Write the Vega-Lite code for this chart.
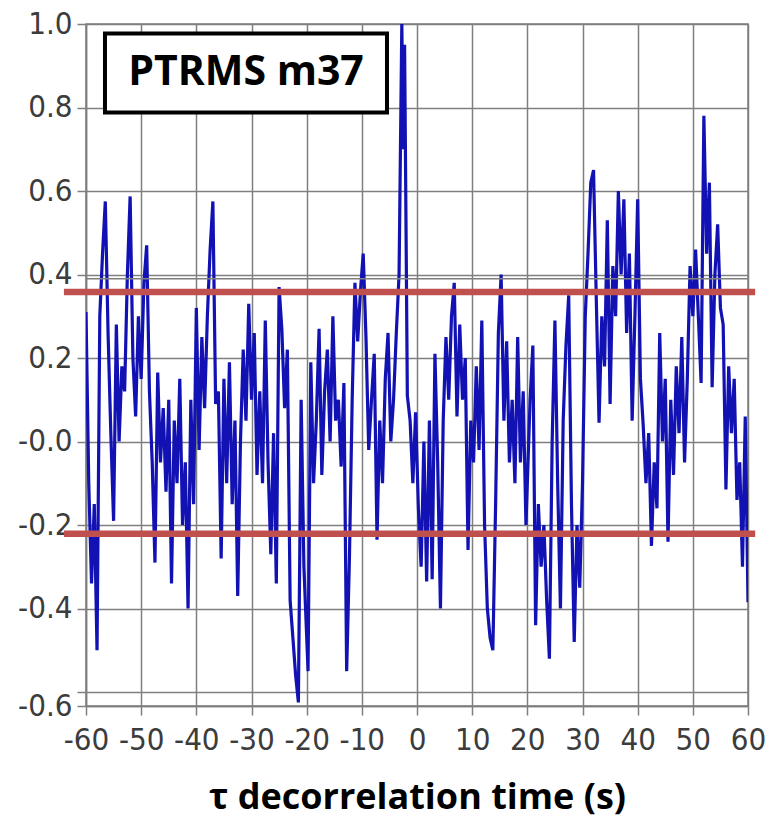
{
  "$schema": "https://vega.github.io/schema/vega-lite/v6.json",
  "width": 662,
  "height": 682,
  "autosize": {"type": "none"},
  "padding": {"left": 86, "top": 24, "right": 25, "bottom": 118},
  "background": "white",
  "config": {
    "view": {"stroke": "#7f7f7f", "strokeWidth": 1.5},
    "axis": {
      "gridColor": "#7f7f7f",
      "gridWidth": 1.5,
      "gridOpacity": 1,
      "domainColor": "#7f7f7f",
      "domainWidth": 1.5,
      "tickColor": "#7f7f7f",
      "tickWidth": 1.5,
      "tickSize": 9,
      "labelFont": "DejaVu Sans Condensed, Liberation Sans, sans-serif",
      "labelFontSize": 31,
      "labelColor": "#3c3c3c",
      "labelOverlap": false,
      "labelFlush": false
    }
  },
  "datasets": {
    "corr": [
      {"t": -60.0, "r": 0.31}, {"t": -59.5, "r": -0.10}, {"t": -59.0, "r": -0.34}, {"t": -58.5, "r": -0.15},
      {"t": -58.0, "r": -0.50}, {"t": -57.5, "r": 0.30}, {"t": -57.0, "r": 0.45}, {"t": -56.5, "r": 0.575},
      {"t": -56.0, "r": 0.26}, {"t": -55.5, "r": 0.02}, {"t": -55.0, "r": -0.19}, {"t": -54.5, "r": 0.28},
      {"t": -54.0, "r": 0.00}, {"t": -53.5, "r": 0.18}, {"t": -53.0, "r": 0.12}, {"t": -52.5, "r": 0.40},
      {"t": -52.0, "r": 0.587}, {"t": -51.5, "r": 0.20}, {"t": -51.0, "r": 0.06}, {"t": -50.5, "r": 0.30},
      {"t": -50.0, "r": 0.15}, {"t": -49.5, "r": 0.38}, {"t": -49.0, "r": 0.47}, {"t": -48.5, "r": 0.12},
      {"t": -48.0, "r": -0.05}, {"t": -47.5, "r": -0.29}, {"t": -47.0, "r": 0.165}, {"t": -46.5, "r": -0.05},
      {"t": -46.0, "r": 0.08}, {"t": -45.5, "r": -0.12}, {"t": -45.0, "r": 0.10}, {"t": -44.5, "r": -0.34},
      {"t": -44.0, "r": 0.05}, {"t": -43.5, "r": -0.10}, {"t": -43.0, "r": 0.15}, {"t": -42.5, "r": -0.20},
      {"t": -42.0, "r": -0.05}, {"t": -41.5, "r": -0.40}, {"t": -41.0, "r": 0.10}, {"t": -40.5, "r": -0.15},
      {"t": -40.0, "r": 0.32}, {"t": -39.5, "r": -0.02}, {"t": -39.0, "r": 0.25}, {"t": -38.5, "r": 0.08},
      {"t": -38.0, "r": 0.30}, {"t": -37.5, "r": 0.46}, {"t": -37.0, "r": 0.575}, {"t": -36.5, "r": 0.09},
      {"t": -36.0, "r": 0.12}, {"t": -35.5, "r": -0.28}, {"t": -35.0, "r": 0.15}, {"t": -34.5, "r": -0.10},
      {"t": -34.0, "r": 0.19}, {"t": -33.5, "r": -0.15}, {"t": -33.0, "r": 0.05}, {"t": -32.5, "r": -0.37},
      {"t": -32.0, "r": 0.00}, {"t": -31.5, "r": 0.22}, {"t": -31.0, "r": 0.05}, {"t": -30.5, "r": 0.33},
      {"t": -30.0, "r": 0.10}, {"t": -29.5, "r": 0.26}, {"t": -29.0, "r": -0.08}, {"t": -28.5, "r": 0.12},
      {"t": -28.0, "r": -0.10}, {"t": -27.5, "r": 0.29}, {"t": -27.0, "r": -0.05}, {"t": -26.5, "r": -0.27},
      {"t": -26.0, "r": 0.02}, {"t": -25.5, "r": -0.34}, {"t": -25.0, "r": 0.37}, {"t": -24.5, "r": 0.27},
      {"t": -24.0, "r": 0.08}, {"t": -23.5, "r": 0.22}, {"t": -23.0, "r": -0.38}, {"t": -22.5, "r": -0.47},
      {"t": -22.0, "r": -0.56}, {"t": -21.5, "r": -0.625}, {"t": -21.0, "r": 0.10}, {"t": -20.5, "r": -0.30},
      {"t": -19.75, "r": -0.55}, {"t": -19.25, "r": 0.19}, {"t": -18.75, "r": -0.10}, {"t": -18.25, "r": 0.05},
      {"t": -17.75, "r": 0.27}, {"t": -17.25, "r": -0.08}, {"t": -16.75, "r": 0.12}, {"t": -16.25, "r": 0.22},
      {"t": -15.75, "r": 0.00}, {"t": -15.25, "r": 0.30}, {"t": -14.75, "r": 0.05}, {"t": -14.25, "r": 0.10},
      {"t": -13.75, "r": -0.06}, {"t": -13.25, "r": 0.14}, {"t": -12.75, "r": -0.55}, {"t": -12.25, "r": -0.28},
      {"t": -11.75, "r": 0.10}, {"t": -11.25, "r": 0.38}, {"t": -10.75, "r": 0.24}, {"t": -10.25, "r": 0.36},
      {"t": -9.75, "r": 0.45}, {"t": -9.25, "r": 0.25}, {"t": -8.75, "r": -0.02}, {"t": -8.25, "r": 0.10},
      {"t": -7.75, "r": 0.21}, {"t": -7.25, "r": -0.235}, {"t": -6.75, "r": 0.05}, {"t": -6.25, "r": -0.10},
      {"t": -5.75, "r": 0.15}, {"t": -5.25, "r": 0.26}, {"t": -4.75, "r": 0.00}, {"t": -4.25, "r": 0.10},
      {"t": -3.75, "r": 0.26}, {"t": -3.25, "r": 0.40}, {"t": -2.75, "r": 1.00}, {"t": -2.5, "r": 0.70},
      {"t": -2.25, "r": 0.95}, {"t": -1.75, "r": 0.11}, {"t": -1.25, "r": 0.05}, {"t": -0.75, "r": -0.10},
      {"t": -0.25, "r": 0.07}, {"t": 0.25, "r": -0.16}, {"t": 0.75, "r": -0.30}, {"t": 1.25, "r": 0.00},
      {"t": 1.75, "r": -0.335}, {"t": 2.25, "r": 0.05}, {"t": 2.75, "r": -0.33}, {"t": 3.25, "r": 0.21},
      {"t": 3.75, "r": -0.05}, {"t": 4.25, "r": -0.40}, {"t": 4.75, "r": 0.05}, {"t": 5.25, "r": 0.25},
      {"t": 5.75, "r": 0.10}, {"t": 6.25, "r": 0.30}, {"t": 6.75, "r": 0.38}, {"t": 7.25, "r": 0.06},
      {"t": 7.75, "r": 0.28}, {"t": 8.25, "r": 0.10}, {"t": 8.75, "r": 0.20}, {"t": 9.25, "r": -0.26},
      {"t": 9.75, "r": 0.05}, {"t": 10.25, "r": -0.05}, {"t": 10.75, "r": 0.18}, {"t": 11.25, "r": -0.02},
      {"t": 11.75, "r": 0.29}, {"t": 12.25, "r": -0.20}, {"t": 12.75, "r": -0.40}, {"t": 13.25, "r": -0.47},
      {"t": 13.75, "r": -0.50}, {"t": 14.25, "r": -0.15}, {"t": 14.75, "r": 0.26}, {"t": 15.25, "r": 0.40},
      {"t": 15.75, "r": 0.05}, {"t": 16.25, "r": 0.24}, {"t": 16.75, "r": -0.05}, {"t": 17.25, "r": 0.10},
      {"t": 17.75, "r": -0.10}, {"t": 18.25, "r": 0.25}, {"t": 18.75, "r": -0.05}, {"t": 19.25, "r": 0.12},
      {"t": 19.75, "r": -0.20}, {"t": 20.5, "r": 0.10}, {"t": 21.0, "r": 0.23}, {"t": 21.5, "r": -0.44},
      {"t": 22.0, "r": -0.15}, {"t": 22.5, "r": -0.30}, {"t": 23.0, "r": -0.20}, {"t": 23.5, "r": -0.38},
      {"t": 24.0, "r": -0.52}, {"t": 24.5, "r": 0.00}, {"t": 25.0, "r": 0.29}, {"t": 25.5, "r": -0.10},
      {"t": 26.0, "r": -0.40}, {"t": 26.5, "r": 0.05}, {"t": 27.0, "r": 0.23}, {"t": 27.5, "r": 0.35},
      {"t": 28.0, "r": -0.15}, {"t": 28.5, "r": -0.48}, {"t": 29.0, "r": -0.20}, {"t": 29.5, "r": -0.35},
      {"t": 30.0, "r": -0.10}, {"t": 30.5, "r": 0.30}, {"t": 31.0, "r": 0.45}, {"t": 31.5, "r": 0.62},
      {"t": 32.0, "r": 0.65}, {"t": 32.5, "r": 0.34}, {"t": 33.0, "r": 0.045}, {"t": 33.5, "r": 0.30},
      {"t": 34.0, "r": 0.18}, {"t": 34.5, "r": 0.53}, {"t": 35.0, "r": 0.09}, {"t": 35.5, "r": 0.42},
      {"t": 36.0, "r": 0.30}, {"t": 36.5, "r": 0.60}, {"t": 37.0, "r": 0.40}, {"t": 37.5, "r": 0.58},
      {"t": 38.0, "r": 0.26}, {"t": 38.5, "r": 0.45}, {"t": 39.0, "r": 0.05}, {"t": 39.5, "r": 0.30},
      {"t": 40.0, "r": 0.58}, {"t": 40.5, "r": 0.15}, {"t": 41.0, "r": 0.04}, {"t": 41.5, "r": -0.10},
      {"t": 42.0, "r": 0.02}, {"t": 42.5, "r": -0.25}, {"t": 43.0, "r": -0.05}, {"t": 43.5, "r": -0.16},
      {"t": 44.0, "r": 0.26}, {"t": 44.5, "r": 0.00}, {"t": 45.0, "r": 0.15}, {"t": 45.5, "r": -0.24},
      {"t": 46.0, "r": 0.10}, {"t": 46.5, "r": -0.08}, {"t": 47.0, "r": 0.18}, {"t": 47.5, "r": 0.02},
      {"t": 48.0, "r": 0.25}, {"t": 48.5, "r": -0.05}, {"t": 49.0, "r": 0.15}, {"t": 49.5, "r": 0.42},
      {"t": 50.0, "r": 0.30}, {"t": 50.5, "r": 0.46}, {"t": 51.0, "r": 0.30}, {"t": 51.5, "r": 0.14},
      {"t": 52.0, "r": 0.78}, {"t": 52.5, "r": 0.45}, {"t": 53.0, "r": 0.62}, {"t": 53.5, "r": 0.13},
      {"t": 54.0, "r": 0.40}, {"t": 54.5, "r": 0.52}, {"t": 55.0, "r": 0.32}, {"t": 55.5, "r": 0.28},
      {"t": 56.0, "r": -0.115}, {"t": 56.5, "r": 0.18}, {"t": 57.0, "r": 0.02}, {"t": 57.5, "r": 0.15},
      {"t": 58.0, "r": -0.14}, {"t": 58.5, "r": -0.05}, {"t": 59.0, "r": -0.30}, {"t": 59.5, "r": 0.06},
      {"t": 60.0, "r": -0.385}
    ],
    "limits": [{"level": 0.358}, {"level": -0.221}],
    "extraGrid": [{"level": 0.39}],
    "tag": [{"label": "PTRMS m37"}]
  },
  "layer": [
    {
      "data": {"name": "corr"},
      "mark": {"type": "line", "color": "#1212b4", "strokeWidth": 3.2, "clip": true},
      "encoding": {
        "x": {
          "field": "t",
          "type": "quantitative",
          "scale": {"domain": [-60, 60], "nice": false},
          "axis": {
            "values": [-60, -50, -40, -30, -20, -10, 0, 10, 20, 30, 40, 50, 60],
            "labelExpr": "'' + datum.value",
            "labelPadding": 10,
            "title": "τ decorrelation time (s)",
            "titleFont": "Open Sans",
            "titleFontSize": 36,
            "titleFontWeight": "bold",
            "titleColor": "#000000",
            "titlePadding": 25
          }
        },
        "y": {
          "field": "r",
          "type": "quantitative",
          "scale": {"domain": [-0.6335, 1.0], "nice": false, "zero": false},
          "axis": {
            "values": [-0.6335, -0.6, -0.4, -0.2, 0, 0.2, 0.4, 0.6, 0.8, 1.0],
            "labelExpr": "datum.value < -0.62 ? '-0.6' : (datum.value == -0.6 ? '' : (datum.value == 0 ? '-0.0' : replace(format(datum.value, '.1f'), '\u2212', '-')))",
            "labelPadding": 5,
            "title": null
          }
        }
      }
    },
    {
      "data": {"name": "extraGrid"},
      "mark": {"type": "rule", "color": "#7f7f7f", "strokeWidth": 1.5},
      "encoding": {"y": {"field": "level", "type": "quantitative"}}
    },
    {
      "data": {"name": "limits"},
      "mark": {"type": "rule", "color": "#c0504d", "strokeWidth": 6.5},
      "encoding": {
        "x": {"datum": -64},
        "x2": {"datum": 61.3},
        "y": {"field": "level", "type": "quantitative"}
      }
    },
    {
      "data": {"name": "tag"},
      "mark": {"type": "rect", "fill": "#ffffff", "stroke": "#000000", "strokeWidth": 4},
      "encoding": {
        "x": {"datum": -56.56},
        "x2": {"datum": -5.44},
        "y": {"datum": 0.977},
        "y2": {"datum": 0.788}
      }
    },
    {
      "data": {"name": "tag"},
      "mark": {"type": "text", "font": "Open Sans", "fontWeight": "bold", "fontSize": 41, "color": "#000000", "align": "center", "baseline": "middle"},
      "encoding": {
        "x": {"datum": -31},
        "y": {"datum": 0.8825},
        "text": {"field": "label"}
      }
    }
  ]
}
